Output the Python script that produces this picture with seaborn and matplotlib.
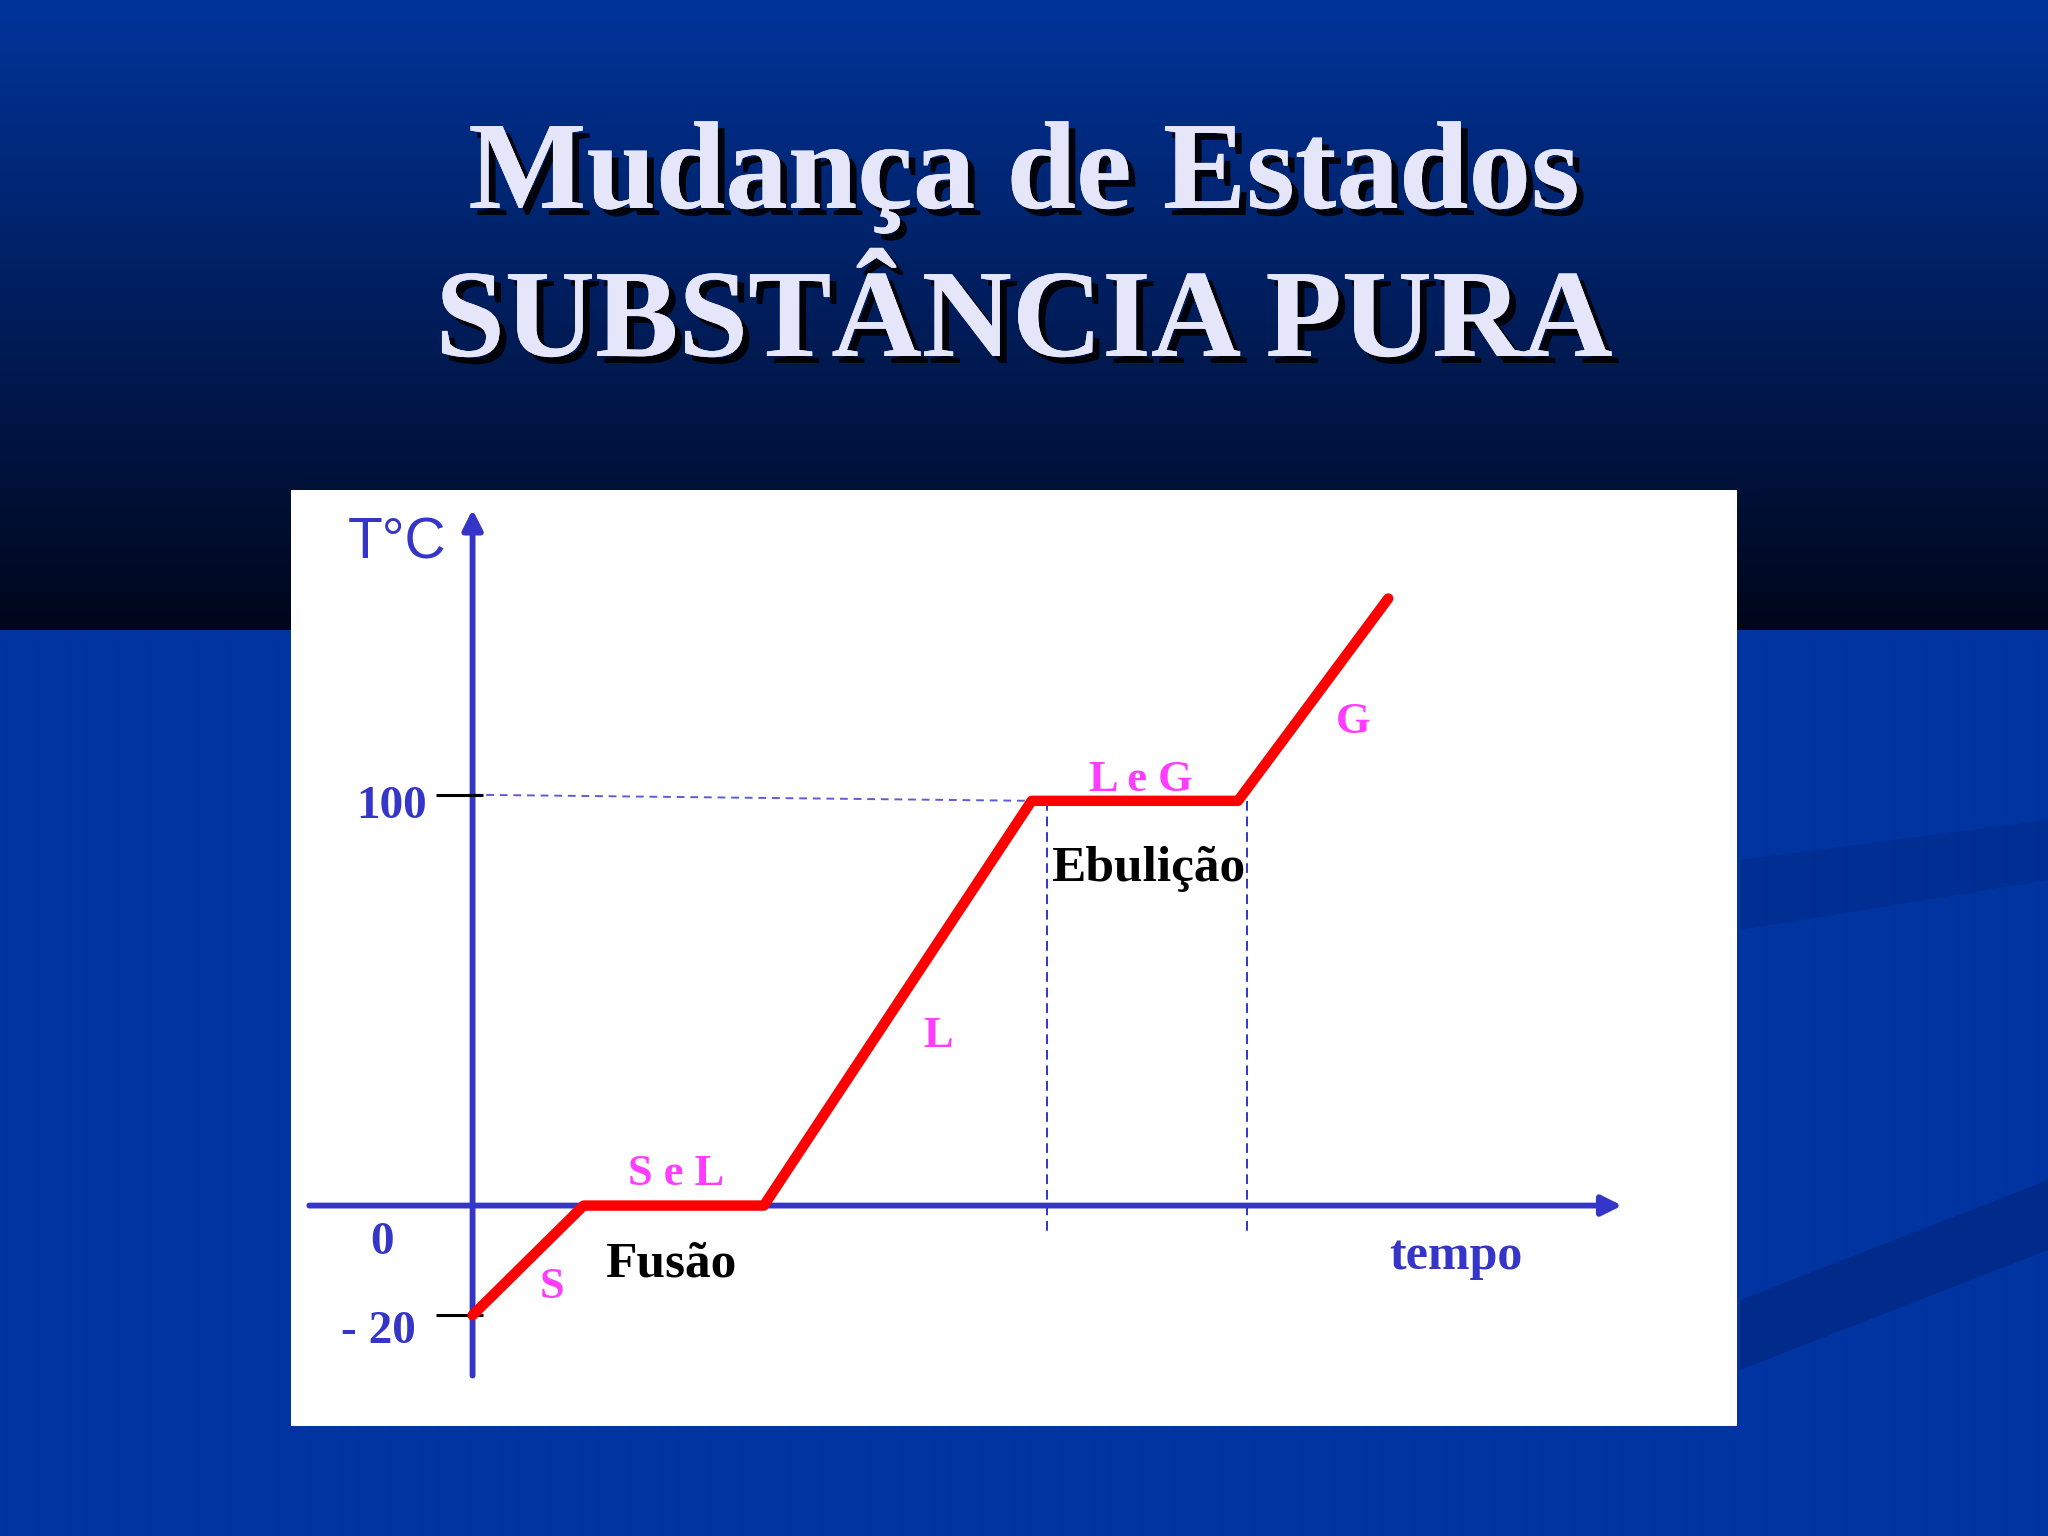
import numpy as np
import pandas as pd
import matplotlib
matplotlib.use("Agg")
import matplotlib.pyplot as plt
import matplotlib.patheffects as pe
from matplotlib.patches import Polygon
import seaborn as sns

# ---- data ----
tempo = [0.0, 8.5, 22.3, 42.8, 58.6, 70.1]          # schematic time units
temperatura = [-20, 0, 0, 100, 100, 150]             # °C
fase_rotulos = ["S", "S e L", "L", "L e G", "G"]
processos = ["Fusão", "Ebulição"]
ticks_y = [100, 0, -20]
ticks_y_rotulos = ["100", "0", "- 20"]
titulo_1 = "Mudança de Estados"
titulo_2 = "SUBSTÂNCIA PURA"
ebulicao_limites = [44.0, 59.3]

sns.set_theme(style="white")
plt.rcParams["font.family"] = ["Liberation Serif", "DejaVu Serif"]

W, H = 2048, 1536
fig = plt.figure(figsize=(W / 100, H / 100), dpi=100)

# ---- slide background ----
bg = fig.add_axes([0, 0, 1, 1], zorder=0)
bg.set_axis_off()
img = np.zeros((H, 2, 3))
top_c = np.array([0, 52, 155]) / 255
bot_c = np.array([0, 6, 26]) / 255
band = 630
for i in range(H):
    if i < band:
        f = i / band
        c = top_c * (1 - f) + bot_c * f
    else:
        c = np.array([0, 52, 160]) / 255
    img[i, :, :] = c
bg.imshow(img, extent=[0, W, H, 0], aspect="auto", interpolation="bilinear")
bg.set_xlim(0, W)
bg.set_ylim(H, 0)
swoosh = (0 / 255, 35 / 255, 120 / 255)
bg.add_patch(Polygon([[1740, 1300], [2048, 1180], [2048, 1250], [1740, 1370]],
                     closed=True, facecolor=swoosh, alpha=0.5, lw=0))
bg.add_patch(Polygon([[1740, 860], [2048, 820], [2048, 880], [1740, 930]],
                     closed=True, facecolor=swoosh, alpha=0.35, lw=0))

shadow = [pe.withSimplePatchShadow(offset=(5, -5), shadow_rgbFace="black", alpha=0.9),
          pe.Normal()]
fig.text(0.5, 1 - 178 / H, titulo_1, ha="center", va="center", fontsize=90,
         fontweight="bold", color="#E6E6FA", path_effects=shadow, zorder=2)
fig.text(0.5, 1 - 326 / H, titulo_2, ha="center", va="center", fontsize=90,
         fontweight="bold", color="#E6E6FA", path_effects=shadow, zorder=2)

# ---- chart panel ----
ax = fig.add_axes([291 / W, 1 - 1426 / H, 1446 / W, 936 / H], zorder=3)
ax.set_facecolor("white")

k = 4.2 / 3.1
def fwd(y):
    y = np.asarray(y, dtype=float)
    return np.where(y < 0, y * k, y)
def inv(y):
    y = np.asarray(y, dtype=float)
    return np.where(y < 0, y / k, y)
ax.set_yscale("function", functions=(fwd, inv))
for s in ax.spines.values():
    s.set_visible(False)

blue = "#3535C8"
magenta = "#FF3CFF"

# axes arrows
ax.annotate("", xy=(0, 172), xytext=(0, -31),
            arrowprops=dict(arrowstyle="-|>", color=blue, lw=4.2, mutation_scale=30,
                            shrinkA=0, shrinkB=0), zorder=2)
ax.annotate("", xy=(88, 0), xytext=(-12.5, 0),
            arrowprops=dict(arrowstyle="-|>", color=blue, lw=4.2, mutation_scale=30,
                            shrinkA=0, shrinkB=0), zorder=2)

# black ticks
for yv in [101.5, -20]:
    ax.plot([-2.8, 0.8], [yv, yv], color="black", lw=2.2, zorder=4,
            solid_capstyle="butt")

# dashed guides
ax.plot([0, tempo[3]], [101.5, 100], color=blue, lw=1.4, ls=(0, (4, 3)), alpha=0.8, zorder=2)
for xv in ebulicao_limites:
    ax.plot([xv, xv], [100, -5.2], color=blue, lw=1.4, ls=(0, (5, 3)), zorder=2)

# heating curve
df = pd.DataFrame({"tempo": tempo, "temperatura": temperatura})
sns.lineplot(data=df, x="tempo", y="temperatura", sort=False, estimator=None,
             color="#FF0000", lw=7.5, ax=ax, zorder=5)
ax.set_xlim(-13.9, 96.8)
ax.set_ylim(-40.2, 176.8)
ax.set_xticks([])
ax.set_yticks([])
ax.set_xlabel("")
ax.set_ylabel("")

# tick labels
tick_pos = {"100": (-6.2, 98.5), "0": (-6.9, -6.9), "- 20": (-7.2, -23.1)}
for lab in ticks_y_rotulos:
    x, y = tick_pos[lab]
    ax.text(x, y, lab, ha="center", va="center", fontsize=34, fontweight="bold",
            color=blue)
ax.text(-5.8, 163.5, "T°C", ha="center", va="center", fontsize=41,
        family=["Liberation Sans", "DejaVu Sans"], color=blue)
ax.text(75.3, -9.3, "tempo", ha="center", va="center", fontsize=36,
        fontweight="bold", color=blue)

# phase labels
fase_pos = {"S": (6.1, -14.8), "S e L": (15.6, 7.7), "L": (35.6, 41.9),
            "L e G": (51.2, 105.2), "G": (67.4, 119.4)}
for lab in fase_rotulos:
    x, y = fase_pos[lab]
    ax.text(x, y, lab, ha="center", va="center", fontsize=32, fontweight="bold",
            color=magenta)

proc_pos = {"Fusão": (15.2, -10.7), "Ebulição": (51.7, 83.2)}
for lab in processos:
    x, y = proc_pos[lab]
    ax.text(x, y, lab, ha="center", va="center", fontsize=37, fontweight="bold",
            color="black", zorder=6)

fig.savefig("out.png", dpi=100)
